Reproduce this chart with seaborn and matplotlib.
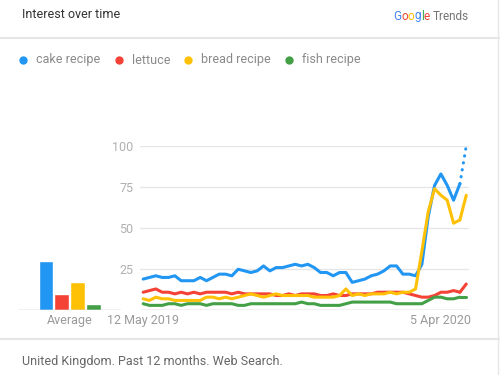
import pandas as pd
import matplotlib
matplotlib.use("Agg")
import matplotlib.pyplot as plt
import seaborn as sns

# -------------------------
# Data (weekly interest, UK, past 12 months)
# -------------------------
terms = ["cake recipe", "lettuce", "bread recipe", "fish recipe"]
colors = ["#2196F3", "#F44336", "#FFC107", "#43A047"]

weeks = list(range(52))

cake = [19, 20, 21, 20, 20, 21, 18, 18, 18, 20, 18, 20, 22, 22, 21, 25, 24, 23, 24, 27,
        24, 26, 26, 27, 28, 27, 28, 26, 23, 23, 21, 23, 23, 17, 18, 19, 21, 22, 24, 27,
        27, 22, 22, 21, 28, 57, 76, 83, 76, 67, 77, 100]
lettuce = [11, 12, 13, 11, 11, 10, 11, 10, 11, 10, 11, 11, 11, 11, 10, 11, 10, 10, 10, 10,
           10, 9, 9, 10, 9, 10, 10, 10, 9, 9, 10, 9, 9, 10, 10, 10, 10, 11, 11, 11,
           11, 11, 10, 9, 8, 8, 9, 11, 11, 12, 11, 16]
bread = [7, 6, 8, 7, 7, 6, 6, 6, 6, 6, 8, 8, 7, 8, 7, 8, 9, 10, 9, 8,
         9, 10, 9, 9, 9, 9, 9, 8, 8, 8, 8, 9, 13, 9, 10, 9, 10, 10, 10, 11,
         10, 11, 11, 13, 36, 60, 74, 70, 67, 53, 55, 70]
fish = [4, 3, 3, 3, 4, 4, 3, 4, 4, 4, 3, 4, 4, 4, 4, 3, 3, 4, 4, 4,
        4, 4, 4, 4, 4, 5, 4, 4, 3, 3, 3, 3, 4, 5, 5, 5, 5, 5, 5, 5,
        4, 4, 4, 4, 4, 6, 8, 8, 7, 7, 8, 8]

averages = [30, 10, 17, 4]

x_tick_pos = [0, 47]
x_tick_labels = ["12 May 2019", "5 Apr 2020"]
y_ticks = [25, 50, 75, 100]

df = pd.DataFrame({"week": weeks, "cake recipe": cake, "lettuce": lettuce,
                   "bread recipe": bread, "fish recipe": fish})
long = df.melt(id_vars="week", var_name="term", value_name="interest")
avg_df = pd.DataFrame({"term": terms, "avg": averages})

# -------------------------
# Figure
# -------------------------
sns.set_theme(style="white")
plt.rcParams["font.family"] = ["Roboto", "DejaVu Sans"]

W, H = 500, 375
fig = plt.figure(figsize=(5, 3.75), dpi=100)
fig.patch.set_facecolor("white")
renderer = fig.canvas.get_renderer()

# overlay in pixel coordinates for the card decoration
deco = fig.add_axes([0, 0, 1, 1], zorder=-1)
deco.set_xlim(0, W)
deco.set_ylim(H, 0)
deco.axis("off")

deco.plot([0, W], [38, 38], color="#e6e6e6", lw=1.5)
deco.plot([0, W], [339, 339], color="#e6e6e6", lw=1.5)
deco.plot([498, 498], [0, H], color="#e6e6e6", lw=1)

deco.text(22, 15, "Interest over time", fontsize=9, color="#333333", va="center")


def text_width(s, size):
    t = deco.text(0, 0, s, fontsize=size)
    w = t.get_window_extent(renderer).width
    t.remove()
    return w


# Google Trends logo: one text per coloured letter
logo_chunks = ["G", "o", "o", "g", "l", "e", "Trends"]
logo_colors = ["#4285F4", "#EA4335", "#FBBC05", "#4285F4", "#34A853", "#EA4335", "#757575"]
logo_x = 393
prefix = ""
for chunk, col in zip(logo_chunks, logo_colors):
    if chunk == "Trends":
        x = logo_x + text_width("Google", 8.5) + 3
    else:
        x = logo_x + text_width(prefix + chunk, 8.5) - text_width(chunk, 8.5)
    deco.text(x, 16, chunk, fontsize=8.5, color=col, va="center")
    prefix += chunk

# legend
legend_x = [23, 119, 188, 289]
for lx, term, col in zip(legend_x, terms, colors):
    deco.plot(lx, 60, "o", color=col, markersize=6, markeredgewidth=0)
    deco.text(lx + 13, 60, term, fontsize=9, color="#8a8a8a", va="center")

deco.text(22, 362, "United Kingdom. Past 12 months. Web Search.", fontsize=9,
          color="#666666", va="center")

# -------------------------
# Line chart
# -------------------------
ax = fig.add_axes([140 / W, 1 - 310.3 / H, 329.4 / W, 164.3 / H])
palette = dict(zip(terms, colors))

for term in terms:
    sub = long[long.term == term]
    sns.lineplot(data=sub[sub.week <= 50], x="week", y="interest", color=palette[term],
                 linewidth=2.2, ax=ax, clip_on=False, legend=False)
    if term == "cake recipe":
        # last, partial week is dotted
        sns.lineplot(data=sub[sub.week >= 50], x="week", y="interest", color=palette[term],
                     linewidth=2.2, ax=ax, clip_on=False, legend=False,
                     linestyle=(0, (0.1, 2.2)), dash_capstyle="round")
    else:
        sns.lineplot(data=sub[sub.week >= 50], x="week", y="interest", color=palette[term],
                     linewidth=2.2, ax=ax, clip_on=False, legend=False)

ax.set_xlim(-0.5, 51.5)
ax.set_ylim(0, 100)
for yv in y_ticks:
    ax.axhline(yv, color="#e6e6e6", lw=1, zorder=0)
ax.axhline(0, color="#b8b8b8", lw=1, zorder=0)
for s in ax.spines.values():
    s.set_visible(False)
ax.set_yticks(y_ticks)
ax.set_yticklabels([str(v) for v in y_ticks])
ax.set_xticks(x_tick_pos)
ax.set_xticklabels(x_tick_labels)
ax.tick_params(axis="y", length=0, pad=5, labelsize=9, labelcolor="#b0b0b0")
ax.tick_params(axis="x", length=0, pad=3, labelsize=9, labelcolor="#9a9a9a")
ax.set_xlabel("")
ax.set_ylabel("")
ax.patch.set_alpha(0)

# -------------------------
# Average bars
# -------------------------
bax = fig.add_axes([18 / W, 1 - 310.3 / H, 103 / W, 164.3 / H])
sns.barplot(data=avg_df, x="term", y="avg", hue="term", palette=colors, legend=False,
            width=0.94, saturation=1, ax=bax)
bax.set_xlim(-1.77, 4.75)
bax.set_ylim(0, 100)
bax.axhline(0, color="#b8b8b8", lw=1)
for s in bax.spines.values():
    s.set_visible(False)
bax.set_yticks([])
bax.set_xticks([1.5])
bax.set_xticklabels(["Average"])
bax.tick_params(axis="x", length=0, pad=3, labelsize=9, labelcolor="#9a9a9a")
bax.set_xlabel("")
bax.set_ylabel("")
bax.patch.set_alpha(0)

fig.savefig("out.png", dpi=100, facecolor="white")
